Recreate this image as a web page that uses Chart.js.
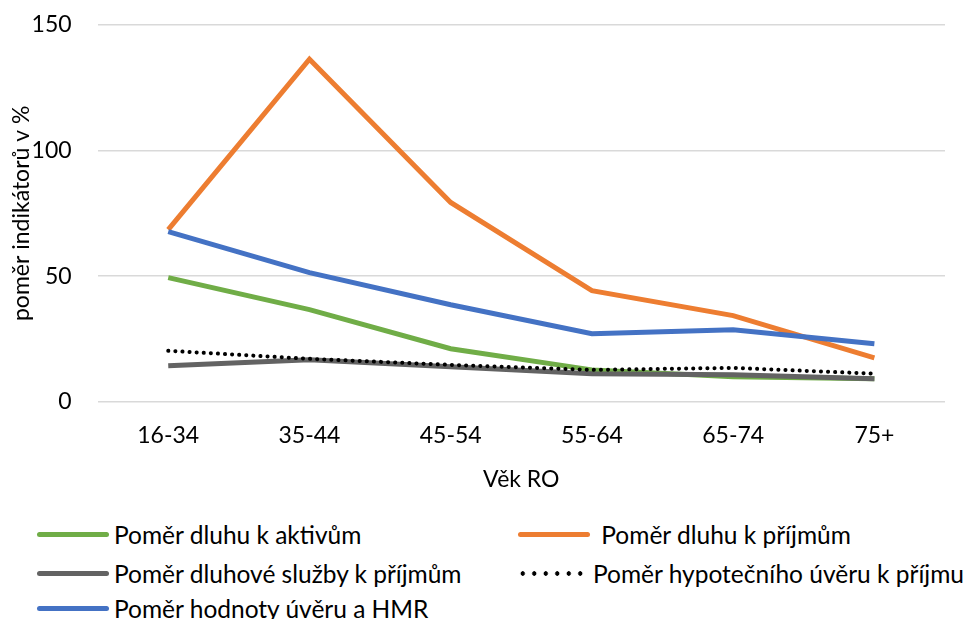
<!DOCTYPE html>
<html>
<head>
<meta charset="utf-8">
<script src="https://cdn.jsdelivr.net/npm/chart.js@4.4.0/dist/chart.umd.min.js"></script>
<style>
    body { margin: 0; background: #fff; font-family: Lato, "Open Sans", sans-serif; overflow: hidden; }
    #wrap { position: relative; width: 973px; height: 619px; overflow: hidden; }
    #chart-box { position: absolute; left: 0; top: -15px; width: 973px; height: 512px; }
    .leg { position: absolute; font-size: 24.5px; color: #000; white-space: nowrap; display: flex; align-items: center; }
    .leg .sw { display: inline-block; width: 72px; height: 5px; border-radius: 3px; margin-right: 5px; }
    .leg .dots { display: inline-block; width: 70px; height: 5px; margin-right: 6px;
        background-image: radial-gradient(circle, #000 2px, transparent 2.5px); background-size: 11.5px 5px; }
</style>
</head>
<body>
<div id="wrap">
    <div id="chart-box"><canvas id="c"></canvas></div>
    <div class="leg" style="left:37px; top:520px;"><span class="sw" style="background:#70ad47"></span>Poměr dluhu k aktivům</div>
    <div class="leg" style="left:518px; top:520px;"><span class="sw" style="background:#ed7d31"></span>&nbsp;Poměr dluhu k příjmům</div>
    <div class="leg" style="left:37px; top:559px;"><span class="sw" style="background:#636363"></span>Poměr dluhové služby k příjmům</div>
    <div class="leg" style="left:517px; top:559px;"><span class="dots"></span>Poměr hypotečního úvěru k příjmu</div>
    <div class="leg" style="left:37px; top:594px;"><span class="sw" style="background:#4472c4"></span>Poměr hodnoty úvěru a HMR</div>
</div>
<script>
    const categories = ['16-34', '35-44', '45-54', '55-64', '65-74', '75+'];
    const dluhAktiva = [49.4, 36.7, 21.1, 12.7, 10.0, 9.2];
    const dluhPrijmy = [68.5, 136.3, 79.3, 44.2, 34.3, 17.5];
    const dluhSluzba = [14.3, 16.7, 13.9, 11.2, 10.8, 9.2];
    const hypoUver = [20.3, 17.1, 14.7, 12.7, 13.5, 11.2];
    const uverHmr = [67.7, 51.4, 38.6, 27.1, 28.7, 23.1];
    const yTicks = [0, 50, 100, 150];

    const font = { family: 'Lato, "Open Sans", sans-serif', size: 23 };

    function line(label, data, color, extra) {
        return Object.assign({
            label: label, data: data, borderColor: color, backgroundColor: color,
            borderWidth: 5, pointRadius: 0, tension: 0, fill: false
        }, extra || {});
    }

    new Chart(document.getElementById('c'), {
        type: 'line',
        data: {
            labels: categories,
            datasets: [
                line('Poměr hypotečního úvěru k příjmu', hypoUver, '#000000', { borderWidth: 4, borderDash: [0.1, 7], borderCapStyle: 'round' }),
                line('Poměr dluhové služby k příjmům', dluhSluzba, '#636363'),
                line('Poměr dluhu k aktivům', dluhAktiva, '#70ad47'),
                line('Poměr hodnoty úvěru a HMR', uverHmr, '#4472c4'),
                line('Poměr dluhu k příjmům', dluhPrijmy, '#ed7d31')
            ]
        },
        options: {
            responsive: true, maintainAspectRatio: false, animation: false,
            layout: { padding: { left: 4, right: 28, top: 12, bottom: 0 } },
            plugins: { legend: { display: false }, tooltip: { enabled: false } },
            scales: {
                x: {
                    offset: true,
                    grid: { display: false },
                    border: { display: false },
                    ticks: { color: '#000', font: font, padding: 12 },
                    title: { display: true, text: 'Věk RO', color: '#000', font: font, padding: { top: 4 } }
                },
                y: {
                    min: 0, max: 150,
                    afterBuildTicks: axis => { axis.ticks = yTicks.map(v => ({ value: v })); },
                    afterFit: axis => { axis.width -= 30; },
                    grid: { color: '#d9d9d9', lineWidth: 1.5, drawTicks: false },
                    border: { display: false },
                    ticks: { color: '#000', font: font, padding: 26 },
                    title: { display: true, text: 'poměr indikátorů v %', color: '#000', font: font, padding: { bottom: 0 } }
                }
            }
        }
    });
</script>
</body>
</html>
